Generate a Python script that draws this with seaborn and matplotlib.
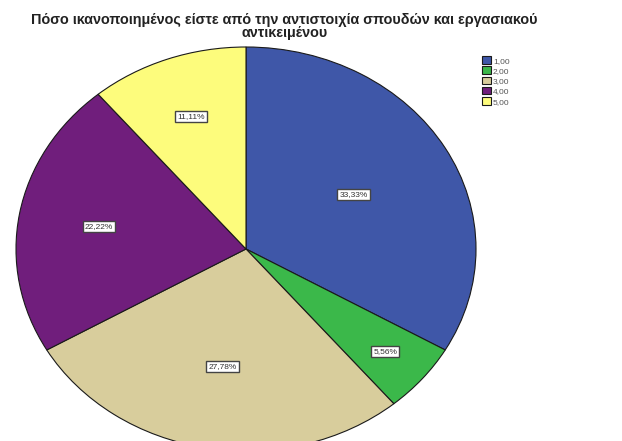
import numpy as np
import matplotlib
matplotlib.use("Agg")
import matplotlib.pyplot as plt
import seaborn as sns

# data
categories = ["1,00", "2,00", "3,00", "4,00", "5,00"]
percentages = [33.33, 5.56, 27.78, 22.22, 11.11]
pct_labels = ["33,33%", "5,56%", "27,78%", "22,22%", "11,11%"]
colors = ["#3f57a8", "#3bb84a", "#d8cd9c", "#701e7c", "#fdfc7c"]
label_radius = [0.54, 0.79, 0.59, 0.65, 0.70]

title = "Πόσο ικανοποιημένος είστε από την αντιστοιχία σπουδών και εργασιακού\nαντικειμένου"

sns.set_theme(style="white")
plt.rcParams["font.family"] = ["Liberation Sans", "DejaVu Sans"]

fig = plt.figure(figsize=(6.22, 4.41), dpi=100)
# axes placed so the stretched pie runs past the bottom edge like the original
ax = fig.add_axes([16 / 622, -10 / 441, 460 / 622, 404 / 441])

wedges, _ = ax.pie(percentages, colors=colors, startangle=90, counterclock=False,
                   wedgeprops=dict(edgecolor="#1a1a1a", linewidth=0.8))
ax.set_aspect("auto")
ax.set_xlim(-1, 1)
ax.set_ylim(-1, 1)
ax.axis("off")

for w, lab, r in zip(wedges, pct_labels, label_radius):
    ang = np.deg2rad((w.theta1 + w.theta2) / 2)
    ax.text(r * np.cos(ang), r * np.sin(ang), lab, ha="center", va="center",
            fontsize=6, color="#333333",
            bbox=dict(boxstyle="square,pad=0.25", fc="white", ec="#444444", lw=1.0))

fig.text(0.457, 0.97, title, ha="center", va="top", fontsize=10.4,
         fontweight="bold", color="#222222", linespacing=0.88)

ax.legend(wedges, categories, loc="upper left", bbox_to_anchor=(478 / 622, 1 - 52 / 441),
          bbox_transform=fig.transFigure, frameon=False, fontsize=6,
          handlelength=1.0, handleheight=1.0, handletextpad=0.3, labelspacing=0.2,
          borderpad=0, labelcolor="#555555")

fig.savefig("out.png", dpi=100)
